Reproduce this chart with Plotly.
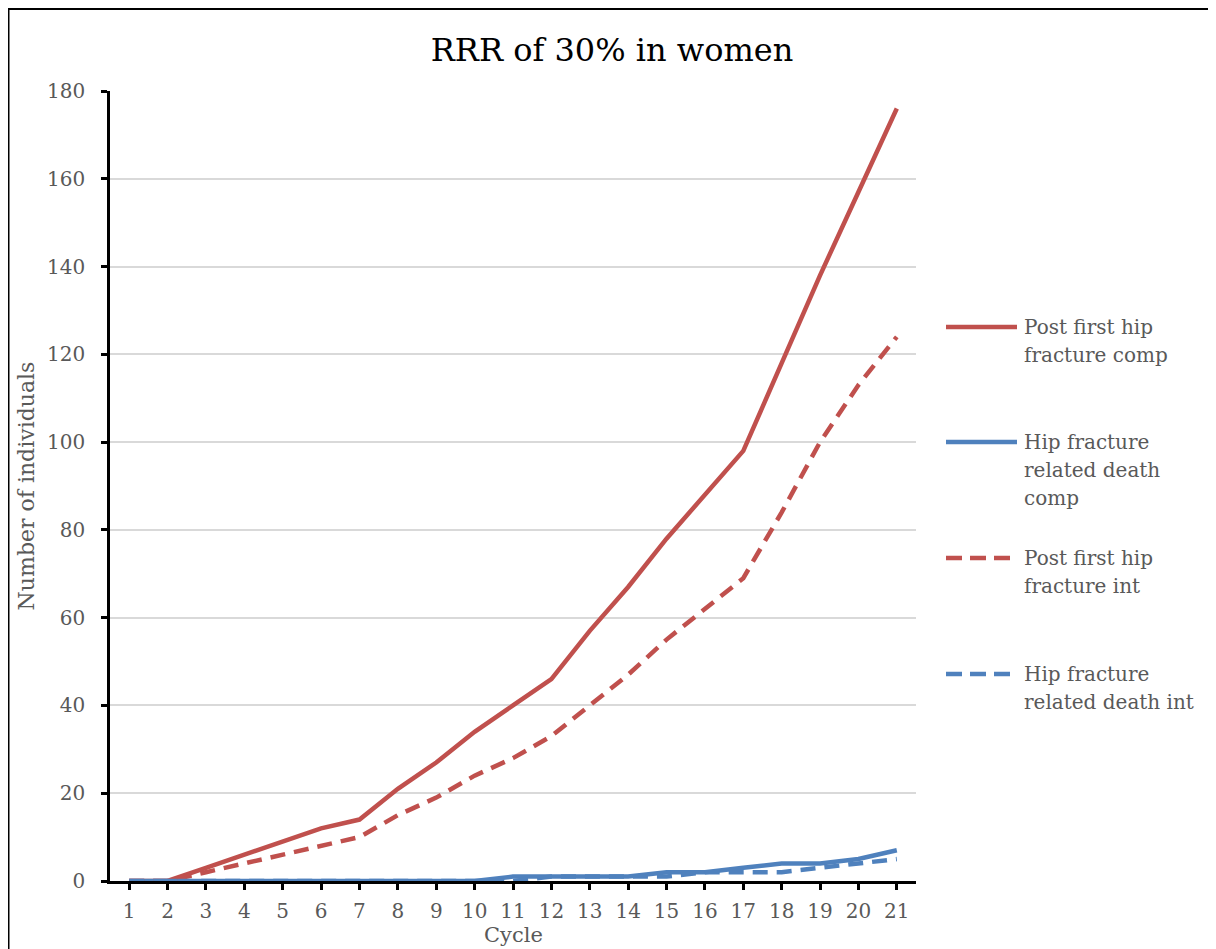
import plotly.graph_objects as go

cycles = list(range(1, 22))
post_first_hip_comp = [0, 0, 3, 6, 9, 12, 14, 21, 27, 34, 40, 46, 57, 67, 78, 88, 98, 118, 138, 157, 176]
hip_death_comp = [0, 0, 0, 0, 0, 0, 0, 0, 0, 0, 1, 1, 1, 1, 2, 2, 3, 4, 4, 5, 7]
post_first_hip_int = [0, 0, 2, 4, 6, 8, 10, 15, 19, 24, 28, 33, 40, 47, 55, 62, 69, 84, 100, 113, 124]
hip_death_int = [0, 0, 0, 0, 0, 0, 0, 0, 0, 0, 0, 1, 1, 1, 1, 2, 2, 2, 3, 4, 5]

series_names = ["Post first hip<br>fracture comp",
                "Hip fracture<br>related death<br>comp",
                "Post first hip<br>fracture int",
                "Hip fracture<br>related death int"]
series_values = [post_first_hip_comp, hip_death_comp, post_first_hip_int, hip_death_int]
RED = "#C0504D"
BLUE = "#4F81BD"
colors = [RED, BLUE, RED, BLUE]
dashes = ["solid", "solid", "15px,9px", "15px,9px"]

# page offset (browser body margin)
OFF = 8
W, H = 1216 - OFF, 949 - OFF
# plot area in screen pixels
L, R, T, B = 110, 916, 91, 881
FONT = "DejaVu Serif"
GRAY = "#595959"

def px_x(x):
    return (x - L) / (R - L)

def px_y(y):
    return (B - y) / (B - T)

fig = go.Figure()
for name, vals, c, d in zip(series_names, series_values, colors, dashes):
    fig.add_trace(go.Scatter(x=cycles, y=vals, mode="lines", name=name.replace("<br>", " "),
                             line=dict(color=c, width=4.5, dash=d), showlegend=False))

# manual legend (Excel-like spacing)
leg_y = [327, 442, 558, 674]
LINE_H = 28
shapes = []
annotations = []
for name, c, d, yy in zip(series_names, colors, dashes, leg_y):
    x_end = 1017 if d == "solid" else 1010
    shapes.append(dict(type="line", xref="paper", yref="paper",
                       x0=px_x(946), x1=px_x(x_end), y0=px_y(yy), y1=px_y(yy),
                       line=dict(color=c, width=4.5, dash=("solid" if d == "solid" else "16px,8px"))))
    for i, part in enumerate(name.split("<br>")):
        annotations.append(dict(text=part, xref="paper", yref="paper",
                                x=px_x(1023), y=px_y(yy + i * LINE_H), xanchor="left", yanchor="middle",
                                align="left", showarrow=False, borderpad=0,
                                font=dict(family=FONT, size=20, color=GRAY)))

# x axis title placed precisely
annotations.append(dict(text="Cycle", xref="paper", yref="paper", x=px_x(513), y=px_y(935),
                        xanchor="center", yanchor="middle", showarrow=False, borderpad=0,
                        font=dict(family=FONT, size=21, color=GRAY)))

# outer chart border
shapes.append(dict(type="rect", xref="paper", yref="paper",
                   x0=px_x(8.5), x1=px_x(1230), y0=px_y(960), y1=px_y(9),
                   line=dict(color="black", width=2), layer="below"))

fig.update_layout(
    width=W, height=H,
    margin=dict(l=L - OFF, r=1216 - R, t=T - OFF, b=949 - B, autoexpand=False),
    paper_bgcolor="white", plot_bgcolor="white",
    title=dict(text="RRR of 30% in women", x=(612 - OFF) / W, y=1 - (50 - OFF) / H,
               xanchor="center", yanchor="middle",
               font=dict(family=FONT, size=32, color="black")),
    shapes=shapes,
    annotations=annotations,
    showlegend=False,
)

fig.update_xaxes(
    range=[0.5, 21.5], tickmode="array", tickvals=cycles, ticktext=[str(c) for c in cycles],
    showline=True, linecolor="black", linewidth=2.5, ticks="outside", ticklen=6,
    tickwidth=2.5, tickcolor="black", showgrid=False, zeroline=False,
    tickfont=dict(family=FONT, size=20, color=GRAY), ticklabelstandoff=4,
    layer="below traces",
)
fig.update_yaxes(
    range=[0, 180], dtick=20, tick0=0,
    showline=True, linecolor="black", linewidth=2.5, ticks="outside", ticklen=6,
    tickwidth=2.5, tickcolor="black", showgrid=True, gridcolor="#D9D9D9", gridwidth=1.5,
    zeroline=False, tickfont=dict(family=FONT, size=20, color=GRAY), ticklabelstandoff=12,
    title=dict(text="Number of individuals", font=dict(family=FONT, size=22, color=GRAY), standoff=7),
    layer="below traces",
)

fig.write_html("out.html")
